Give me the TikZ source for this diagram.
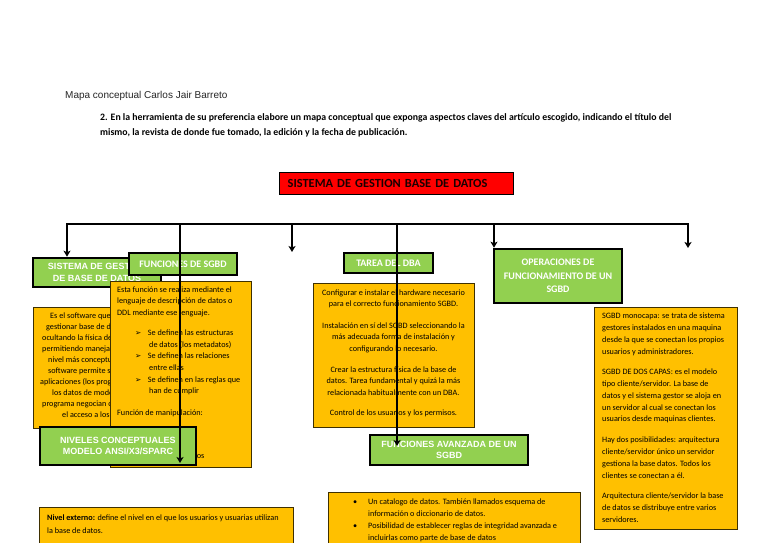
\documentclass[tikz,border=0pt]{standalone}
\usepackage{fontspec}
\setmainfont{Carlito}
\newfontfamily\arialf{Liberation Sans}
\newfontfamily\dejavuf{DejaVu Sans}
\usetikzlibrary{arrows.meta}
\definecolor{cY}{HTML}{FFC000}
\definecolor{cG}{HTML}{92D050}
\definecolor{cR}{HTML}{FF0000}
\definecolor{cYL}{HTML}{3F3000}
\newcommand{\bulA}{{\dejavuf\fontsize{7.5}{7.5}\selectfont ➢}}
\begin{document}
\begin{tikzpicture}[x=1pt,y=-1pt,
  greenbox/.style={draw=black,line width=2.6pt,fill=cG,inner sep=0pt,align=center,text=white},
  yelbox/.style={draw=cYL,line width=0.8pt,fill=cY,inner sep=0pt,anchor=north west},
  cfont/.style={font=\bfseries\fontsize{10}{13.5}\selectfont},
  afont/.style={font=\arialf\bfseries\fontsize{9}{11.5}\selectfont},
  ytext/.style={inner sep=0pt,anchor=north west,align=left,font=\fontsize{8.2}{11.6}\selectfont},
  conn/.style={draw=black,line width=1.5pt},
  arr/.style={conn,-{Stealth[length=6pt,width=7pt,inset=1.5pt]}},
]
\path[use as bounding box,fill=white] (0,0) rectangle (768,543);
\clip (0,0) rectangle (768,543);

% header
\node[inner sep=0pt,anchor=base west,font=\arialf\fontsize{10}{12}\selectfont,text=black!85] (hdr) at (65,99) {Mapa conceptual Carlos Jair Barreto};
\node[inner sep=0pt,anchor=north west,align=left,font=\bfseries\fontsize{9.8}{15}\selectfont] (ins) at (100,109.5) {\strut 2. En la herramienta de su preferencia elabore un mapa conceptual que exponga aspectos claves del artículo escogido, indicando el título del\\ mismo, la revista de donde fue tomado, la edición y la fecha de publicación.};

% title
\node[draw=black,line width=1.3pt,fill=cR,anchor=north west,minimum width=234pt,minimum height=22pt,text width=218pt,inner xsep=8pt,inner ysep=0pt,align=left,font=\bfseries\fontsize{12.4}{14}\selectfont,text=black!90!red] (title) at (279,172) {SISTEMA DE GESTION BASE DE DATOS};

% left column
\node[greenbox,afont,minimum width=128pt,minimum height=29pt] (sis) at (97,272.5) {SISTEMA DE GESTION\\DE BASE DE DATOS};
\node[yelbox,minimum width=150pt,minimum height=121pt] (lyb) at (33,307) {};
\node[ytext,font=\fontsize{8.2}{11}\selectfont] (lyt) at (40,311) {\strut\hspace*{10pt}Es el software que permite\\
\hspace*{6pt}gestionar base de datos,\\
\hspace*{2pt}ocultando la física de ella y\\
\hspace*{2pt}permitiendo manejarla a un\\
\hspace*{8pt}nivel más conceptual. Este\\
\hspace*{8pt}software permite separar las\\
aplicaciones (los programas) de\\
\hspace*{12pt}los datos de modo que el\\
\hspace*{2pt}programa negocian con el SGBD\\
\hspace*{22pt}el acceso a los datos.};

\node[greenbox,cfont,minimum width=108pt,minimum height=22pt] (fsg) at (183,264) {FUNCIONES DE SGBD};
\node[yelbox,minimum width=141pt,minimum height=186pt] (fyb) at (110,281) {};
\node[ytext] (fyt) at (117,284) {\strut Esta función se realiza mediante el\\
lenguaje de descripción de datos o\\
DDL mediante ese lenguaje.\\[8.5pt]
\hspace*{18pt}\bulA\hspace*{6.5pt}Se definen las estructuras\\
\hspace*{32pt}de datos (los metadatos)\\
\hspace*{18pt}\bulA\hspace*{6.5pt}Se definen las relaciones\\
\hspace*{32pt}entre ellas\\
\hspace*{18pt}\bulA\hspace*{6.5pt}Se definen en las reglas que\\
\hspace*{32pt}han de cumplir\\[10pt]
Función de manipulación:\\[31.5pt]
\hspace*{-6pt}buscar o modificar los datos};

\node[greenbox,afont,minimum width=156pt,minimum height=38pt] (niv) at (118,446) {NIVELES CONCEPTUALES\\MODELO ANSI/X3/SPARC};

% DBA column
\node[greenbox,cfont,minimum width=89pt,minimum height=20pt] (tar) at (388.5,263) {TAREA DEL DBA};
\node[yelbox,minimum width=161pt,minimum height=144pt] (dyb) at (313,283) {};
\node[ytext,anchor=north,align=center] (dyt) at (393.5,287) {\strut Configurar e instalar el hardware necesario\\
para el correcto funcionamiento SGBD.\\[9.5pt]
Instalación en sí del SGBD seleccionando la\\
más adecuada forma de instalación y\\
configurando lo necesario.\\[9.5pt]
Crear la estructura física de la base de\\
datos. Tarea fundamental y quizá la más\\
relacionada habitualmente con un DBA.\\[8.5pt]
Control de los usuarios y los permisos.};
\node[greenbox,afont,minimum width=158pt,minimum height=30pt] (fav) at (449,450) {FUNCIONES AVANZADA DE UN\\SGBD};

% right column
\node[greenbox,cfont,minimum width=128pt,minimum height=54pt] (ope) at (558,276) {OPERACIONES DE\\FUNCIONAMIENTO DE UN\\SGBD};
\node[yelbox,minimum width=143pt,minimum height=222pt] (ryb) at (594,307) {};
\node[ytext,font=\fontsize{8.2}{11.9}\selectfont] (ryt) at (602,310) {\strut SGBD monocapa: se trata de sistema\\
gestores instalados en una maquina\\
desde la que se conectan los propios\\
usuarios y administradores.\\[8.2pt]
SGBD DE DOS CAPAS: es el modelo\\
tipo cliente/servidor. La base de\\
datos y el sistema gestor se aloja en\\
un servidor al cual se conectan los\\
usuarios desde maquinas clientes.\\[9pt]
Hay dos posibilidades: arquitectura\\
cliente/servidor único un servidor\\
gestiona la base datos. Todos los\\
clientes se conectan a él.\\[8.2pt]
Arquitectura cliente/servidor la base\\
de datos se distribuye entre varios\\
servidores.};

% bottom boxes
\node[yelbox,minimum width=254pt,minimum height=60pt] (bly) at (39,507) {};
\node[ytext,font=\fontsize{8.2}{13}\selectfont] (blt) at (47,511) {\strut\textbf{Nivel externo:} define el nivel en el que los usuarios y usuarias utilizan\\
la base de datos.};
\node[yelbox,minimum width=252pt,minimum height=70pt] (bmy) at (328,492) {};
\node[ytext,font=\fontsize{8.2}{12}\selectfont] (bmt) at (353,496) {\strut\makebox[15pt][l]{•}Un catalogo de datos. También llamados esquema de\\
\hspace*{15pt}información o diccionario de datos.\\
\makebox[15pt][l]{•}Posibilidad de establecer reglas de integridad avanzada e\\
\hspace*{15pt}incluirlas como parte de base de datos};

% connectors
\coordinate (b1) at (67,224);
\coordinate (b2) at (180,224);
\coordinate (b3) at (292,224);
\coordinate (b4) at (397,224);
\coordinate (b5) at (494,224);
\coordinate (b6) at (688,224);
\coordinate (e2) at (180,463);
\coordinate (e3) at (292,252);
\coordinate (e4) at (397,446);
\coordinate (e6) at (688,248);
\draw[conn,{Stealth[length=6pt,width=7pt,inset=1.5pt]}-{Stealth[length=6pt,width=7pt,inset=1.5pt]}] (b1 |- sis.north) -- (b1) -- (b6) -- (e6);
\draw[arr] (b2) -- (e2);
\draw[arr] (b3) -- (e3);
\draw[arr] (b4) -- (e4);
\draw[arr] (b5) -- (b5 |- ope.north);
\end{tikzpicture}
\end{document}
